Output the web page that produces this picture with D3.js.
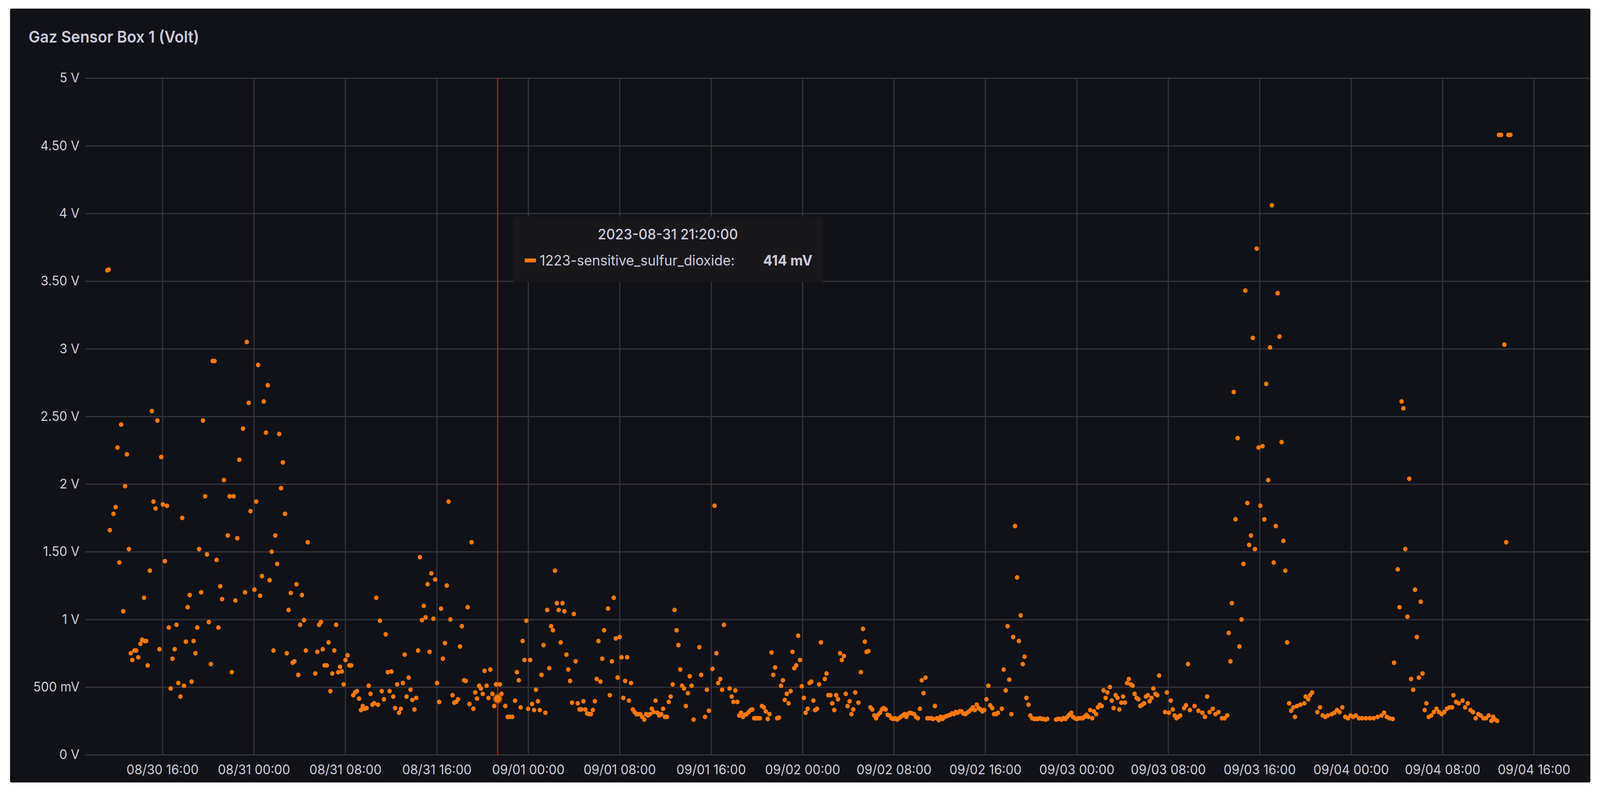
<!DOCTYPE html>
<html><head><meta charset="utf-8">
<script src="https://cdn.jsdelivr.net/npm/d3@7/dist/d3.min.js"></script>
<style>html,body{margin:0;padding:0;background:#fff;width:100%;height:100%;overflow:hidden;}svg{display:block;font-family:Inter,"Open Sans",sans-serif;}</style>
</head><body>
<script>
const title = "Gaz Sensor Box 1 (Volt)";
const seriesName = "1223-sensitive_sulfur_dioxide";
const startTime = new Date(2023, 7, 30, 16, 0, 0);
const xTickStarts = [0, 8, 16, 24, 32, 40, 48, 56, 64, 72, 80, 88, 96, 104, 112, 120];
const yTicks = [0, 0.5, 1, 1.5, 2, 2.5, 3, 3.5, 4, 4.5, 5];
const yTickLabels = ["0 V", "500 mV", "1 V", "1.50 V", "2 V", "2.50 V", "3 V", "3.50 V", "4 V", "4.50 V", "5 V"];
const hoverHours = 29.333;
const hoverValue = 0.414;
const hoverTimeLabel = "2023-08-31 21:20:00";
const hoverValueLabel = "414 mV";
// hours since 08/30 16:00 and readings (V)
const hours = [-4.82,-4.7,-4.6,-4.28,-4.09,-3.93,-3.77,-3.61,-3.43,-3.27,-3.11,-2.93,-2.77,-2.63,-2.45,-2.29,-2.11,-1.92,-1.78,-1.61,-1.55,-1.42,-1.29,-1.1,-0.92,-0.78,-0.6,-0.44,-0.26,-0.1,0.04,0.22,0.40,0.56,0.72,0.88,1.07,1.23,1.39,1.57,1.73,1.89,2.05,2.21,2.39,2.55,2.73,2.89,3.05,3.21,3.39,3.55,3.74,3.9,4.06,4.24,4.4,4.56,4.74,4.9,5.06,5.22,5.38,5.72,5.88,6.07,6.23,6.39,6.55,6.73,7.05,7.23,7.38,7.55,7.71,8.05,8.21,8.37,8.55,8.71,8.87,9.06,9.22,9.38,9.56,9.72,9.88,10.04,10.22,10.38,10.54,10.72,10.88,11.04,11.23,11.39,11.55,11.73,11.89,12.05,12.21,12.39,12.55,12.71,13.37,13.55,13.71,13.87,14.03,14.19,14.38,14.54,14.7,14.86,15.04,15.2,15.38,15.54,15.7,15.86,16.02,16.2,16.36,16.52,16.7,16.86,17.02,17.21,17.37,17.53,17.7,17.87,18.05,18.21,18.37,18.53,18.71,18.87,19.03,19.19,19.38,19.54,19.72,19.88,20.04,20.2,20.36,20.54,20.7,20.86,21.04,21.2,21.36,21.55,21.71,21.87,22.05,22.21,22.37,22.53,22.71,22.87,23.03,23.21,23.37,23.53,23.71,23.87,24.03,24.22,24.38,24.54,24.72,24.88,25.04,25.2,25.38,25.54,25.7,25.86,26.04,26.2,26.39,26.55,26.71,26.87,27.05,27.21,27.37,27.53,27.71,27.87,28.03,28.19,28.37,28.53,28.69,28.87,29.03,29.19,29.333,29.54,29.67,30.0,30.21,30.41,30.61,30.86,31.02,31.18,31.34,31.52,31.68,31.84,32.0,32.18,32.34,32.52,32.68,32.86,33.02,33.17,33.35,33.51,33.67,33.85,34.01,34.17,34.35,34.51,34.67,34.85,35.01,35.17,35.35,35.51,35.67,35.84,36.0,36.16,36.34,36.5,36.66,36.84,37.0,37.16,37.32,37.49,37.66,37.84,38.0,38.15,38.33,38.49,38.65,38.99,39.15,39.33,39.49,39.67,39.83,40.01,40.17,40.33,40.49,40.66,40.82,41.0,41.16,41.32,41.48,41.64,41.82,41.98,42.16,42.32,42.48,42.66,42.82,42.98,43.15,43.31,43.47,43.65,43.81,43.97,44.15,44.31,44.47,44.65,44.81,44.99,45.15,45.31,45.47,45.64,45.8,45.98,46.14,46.3,46.48,46.98,47.14,47.48,47.64,47.82,48.13,48.31,48.47,48.63,48.81,48.97,49.13,49.63,49.81,49.97,50.13,50.31,50.47,50.63,50.8,50.96,51.12,51.3,51.46,51.62,51.78,51.95,52.11,52.28,52.46,52.62,52.8,52.96,53.12,53.3,53.45,53.61,53.79,53.95,54.13,54.29,54.45,54.63,54.79,54.97,55.13,55.29,55.45,55.63,55.79,55.94,56.12,56.28,56.46,56.62,56.78,56.96,57.12,57.28,57.46,57.62,57.96,58.11,58.27,58.45,58.61,58.79,58.95,59.11,59.29,59.45,59.63,59.79,59.95,60.13,60.29,60.45,60.62,60.9,61.12,61.3,61.46,61.61,61.77,61.95,62.11,62.29,62.45,62.61,62.79,62.95,63.11,63.29,63.45,63.61,63.79,63.95,64.11,64.28,64.44,64.6,64.78,64.94,65.1,65.28,65.44,65.6,65.78,65.94,66.1,66.28,66.44,66.6,66.77,66.93,67.1,67.27,67.43,67.59,67.77,67.93,68.1,68.27,68.43,68.59,68.76,68.93,69.09,69.26,69.42,69.58,69.76,69.92,70.08,70.26,70.42,70.58,70.76,70.92,71.08,71.26,71.42,71.58,71.75,71.91,72.1,72.27,72.43,72.61,72.77,72.95,73.11,73.45,73.61,73.79,73.95,74.1,74.28,74.44,74.6,74.78,74.94,75.1,75.28,75.44,75.6,75.78,75.94,76.1,76.28,76.44,76.6,76.77,76.93,77.09,77.27,77.43,78.19,78.35,78.52,78.68,78.84,79.02,79.18,79.34,79.52,79.68,79.84,80.02,80.18,80.34,80.52,80.68,80.86,81.02,81.18,81.36,81.51,81.7,81.85,82.03,82.19,82.35,82.53,82.69,82.91,83.07,83.23,83.41,83.57,83.73,83.9,84.06,84.22,84.4,84.56,84.72,84.9,85.06,85.24,85.4,85.56,85.74,85.9,86.06,86.22,86.38,86.55,86.71,86.89,87.05,87.21,87.73,87.89,88.07,88.23,88.41,88.57,88.73,88.9,89.06,89.4,89.56,89.74,89.9,90.31,90.65,91.0,91.22,91.41,91.63,91.91,92.14,92.41,92.71,92.94,93.17,93.3,93.45,93.58,93.74,93.9,94.08,94.24,94.43,94.59,94.75,94.93,95.09,95.25,95.41,95.59,95.75,95.91,96.07,96.26,96.42,96.58,96.76,96.92,97.08,97.24,97.42,97.58,97.74,97.93,98.09,98.25,98.41,98.59,98.77,98.96,99.1,99.28,99.58,99.92,100.03,100.26,100.42,100.6,101.06,101.29,101.52,101.75,101.98,102.32,102.55,102.78,103.0,103.24,103.5,103.73,103.96,104.19,104.42,104.7,104.96,105.3,105.65,105.98,106.33,106.67,106.9,107.13,107.36,107.65,107.77,108.09,108.25,108.43,108.59,108.75,108.94,109.1,109.26,109.44,109.6,109.76,109.94,110.1,110.26,110.45,110.6,110.8,111.02,111.25,111.48,111.7,111.93,112.16,112.39,112.62,112.85,112.96,113.19,113.42,113.76,113.99,114.22,114.45,114.68,114.91,115.14,115.36,115.59,115.82,116.05,116.28,116.44,116.62,116.8,116.95,117.13,117.42,117.58,117.77,117.95];
const volts = [3.58,3.585,1.66,1.78,1.83,2.27,1.42,2.44,1.06,1.985,2.22,1.52,0.75,0.70,0.77,0.77,0.72,0.82,0.85,1.16,0.84,0.84,0.66,1.36,2.54,1.87,1.82,2.47,0.78,2.20,1.85,1.43,1.84,0.94,0.49,0.71,0.78,0.96,0.53,0.43,1.75,0.51,0.835,1.09,1.18,0.54,0.84,0.75,0.94,1.52,1.20,2.47,1.91,1.48,0.98,0.67,2.91,2.91,1.44,0.94,1.245,1.15,2.03,1.62,1.91,0.61,1.91,1.14,1.60,2.18,2.41,1.20,3.05,2.60,1.80,1.22,1.87,2.88,1.175,1.32,2.61,2.38,2.73,1.29,1.50,0.77,1.62,1.41,2.37,1.97,2.16,1.78,0.75,1.07,1.195,0.68,0.69,1.26,0.59,0.96,1.18,0.995,0.77,1.57,0.60,0.76,0.96,0.98,0.78,0.66,0.66,0.83,0.47,0.60,0.77,0.96,0.61,0.65,0.615,0.52,0.70,0.735,0.66,0.66,0.44,0.46,0.47,0.415,0.33,0.36,0.34,0.345,0.51,0.45,0.37,0.38,1.16,0.37,0.99,0.47,0.41,0.89,0.61,0.47,0.615,0.43,0.345,0.52,0.31,0.34,0.53,0.74,0.43,0.57,0.48,0.405,0.335,0.42,0.77,1.46,0.995,1.10,1.015,1.26,0.76,1.34,1.005,1.295,0.53,0.39,1.08,0.71,0.825,1.25,1.87,1.0,0.44,0.385,0.39,0.41,0.80,0.95,0.55,0.545,1.09,0.375,1.57,0.34,0.46,0.415,0.51,0.49,0.45,0.62,0.51,0.42,0.63,0.45,0.36,0.52,0.414,0.52,0.45,0.36,0.28,0.28,0.28,0.40,0.61,0.55,0.35,0.84,0.70,0.99,0.34,0.70,0.375,0.33,0.48,0.395,0.33,0.59,0.81,0.31,1.07,0.64,0.95,0.92,1.36,1.12,1.07,0.83,1.12,1.06,0.74,0.63,0.545,0.385,1.04,0.69,0.38,0.335,0.335,0.395,0.335,0.305,0.30,0.30,0.33,0.395,0.56,0.84,0.54,0.71,0.92,1.08,0.44,0.69,1.16,0.86,0.57,0.87,0.72,0.42,0.545,0.72,0.40,0.53,0.335,0.315,0.30,0.30,0.30,0.28,0.26,0.30,0.29,0.30,0.34,0.315,0.40,0.31,0.29,0.30,0.34,0.28,0.28,0.39,0.43,0.52,1.07,0.92,0.81,0.63,0.51,0.49,0.36,0.455,0.58,0.51,0.26,0.795,0.59,0.28,0.48,0.325,0.635,1.84,0.75,0.53,0.56,0.48,0.96,0.49,0.43,0.39,0.475,0.39,0.29,0.31,0.28,0.295,0.30,0.315,0.33,0.335,0.27,0.27,0.27,0.27,0.36,0.35,0.32,0.265,0.30,0.755,0.59,0.645,0.27,0.275,0.51,0.55,0.405,0.45,0.38,0.47,0.76,0.64,0.66,0.88,0.70,0.506,0.42,0.31,0.34,0.53,0.54,0.40,0.33,0.34,0.52,0.83,0.56,0.60,0.44,0.44,0.38,0.33,0.44,0.41,0.75,0.70,0.73,0.45,0.36,0.395,0.30,0.335,0.46,0.385,0.61,0.93,0.835,0.76,0.765,0.35,0.335,0.29,0.27,0.295,0.31,0.335,0.345,0.335,0.295,0.29,0.27,0.265,0.27,0.26,0.27,0.28,0.29,0.30,0.28,0.305,0.31,0.305,0.30,0.28,0.27,0.34,0.55,0.455,0.57,0.27,0.27,0.27,0.265,0.36,0.27,0.255,0.28,0.265,0.28,0.285,0.29,0.295,0.305,0.30,0.315,0.31,0.32,0.32,0.305,0.30,0.31,0.32,0.335,0.35,0.33,0.37,0.345,0.335,0.32,0.33,0.41,0.51,0.365,0.345,0.30,0.30,0.31,0.34,0.63,0.475,0.95,0.555,0.30,0.87,1.69,1.31,0.84,1.03,0.67,0.725,0.42,0.37,0.29,0.27,0.265,0.265,0.265,0.27,0.265,0.265,0.26,0.265,0.26,0.265,0.265,0.26,0.27,0.265,0.28,0.295,0.31,0.28,0.27,0.265,0.27,0.27,0.27,0.28,0.295,0.28,0.33,0.27,0.32,0.30,0.35,0.37,0.36,0.475,0.42,0.46,0.50,0.40,0.345,0.44,0.42,0.335,0.385,0.43,0.385,0.53,0.56,0.52,0.51,0.45,0.42,0.41,0.36,0.37,0.38,0.43,0.44,0.395,0.42,0.49,0.45,0.44,0.585,0.315,0.46,0.31,0.40,0.335,0.29,0.27,0.28,0.29,0.345,0.365,0.67,0.33,0.36,0.325,0.31,0.28,0.43,0.315,0.34,0.30,0.315,0.27,0.27,0.29,0.90,0.69,1.12,2.68,1.74,2.34,0.80,1.0,1.41,3.43,1.86,1.55,1.62,3.08,1.52,3.74,2.27,1.84,2.28,1.74,2.74,2.03,3.01,4.06,1.42,1.69,3.41,3.09,2.31,1.58,1.36,0.83,0.38,0.325,0.35,0.28,0.36,0.37,0.38,0.43,0.41,0.44,0.46,0.315,0.35,0.29,0.28,0.29,0.30,0.31,0.33,0.315,0.35,0.28,0.27,0.29,0.28,0.29,0.27,0.27,0.27,0.27,0.27,0.28,0.29,0.31,0.28,0.27,0.265,0.68,1.37,1.09,2.61,2.56,1.52,1.02,2.04,0.56,0.48,1.22,0.87,0.57,1.13,0.60,0.33,0.38,0.28,0.29,0.315,0.34,0.315,0.30,0.315,0.34,0.35,0.35,0.44,0.39,0.38,0.40,0.35,0.38,0.33,0.315,0.27,0.30,0.29,0.27,0.27,0.29,0.25,0.28,0.26,0.25,4.58,4.58,3.03,1.57,4.58,4.58];

const W = 4305, H = 2031;
const panel = {x: 27, y: 22, w: 4252, h: 1982};
const plot = {l: 230, r: 4279, t: 200, b: 1933};
const hourMs = 3600e3;
const t = h => new Date(startTime.getTime() + h * hourMs);
const data = hours.map((h, i) => ({time: t(h), v: volts[i]}));

const x = d3.scaleTime().domain([t(0), t(120)]).range([437, 4127]);
const y = d3.scaleLinear().domain([0, 5]).range([plot.b, plot.t]);

const svg = d3.select("body").append("svg")
  .attr("viewBox", `0 0 ${W} ${H}`).attr("preserveAspectRatio", "none")
  .style("width", "100vw").style("height", "100vh");
svg.append("rect").attr("x", panel.x).attr("y", panel.y).attr("width", panel.w).attr("height", panel.h)
  .attr("rx", 4).attr("fill", "#111217");
svg.append("text").attr("x", 77).attr("y", 109).attr("fill", "#ccccdc")
  .attr("font-size", 41).attr("font-weight", 600).text(title);

const textCol = "#ccccdc", gridCol = "#34353b";
const yAxis = svg.append("g").attr("transform", `translate(${plot.l},0)`)
  .call(d3.axisLeft(y).tickValues(yTicks).tickSize(-(plot.r - plot.l)).tickPadding(16)
    .tickFormat((d, i) => yTickLabels[i]));
yAxis.select(".domain").remove();
yAxis.selectAll("line").attr("stroke", gridCol).attr("stroke-width", 3);
yAxis.selectAll("text").attr("fill", textCol).attr("font-size", 34).attr("font-family", "Inter, sans-serif");

const fmt = d3.timeFormat("%m/%d %H:%M");
const xAxis = svg.append("g").attr("transform", `translate(0,${plot.b})`)
  .call(d3.axisBottom(x).tickValues(xTickStarts.map(t)).tickSize(-(plot.b - plot.t)).tickPadding(26).tickFormat(fmt));
xAxis.select(".domain").remove();
xAxis.selectAll("line").attr("stroke", gridCol).attr("stroke-width", 3);
xAxis.selectAll("text").attr("fill", textCol).attr("font-size", 34).attr("font-family", "Inter, sans-serif");

svg.append("line").attr("x1", x(t(hoverHours))).attr("x2", x(t(hoverHours)))
  .attr("y1", plot.t).attr("y2", plot.b).attr("stroke", "#c4162a").attr("stroke-width", 3);

svg.append("g").selectAll("circle").data(data).join("circle")
  .attr("cx", d => x(d.time)).attr("cy", d => y(d.v)).attr("r", 6).attr("fill", "#ff780a");
svg.append("circle").attr("cx", x(t(hoverHours))).attr("cy", y(hoverValue)).attr("r", 10)
  .attr("fill", "#ff780a").attr("stroke", "rgba(255,120,10,0.35)").attr("stroke-width", 8);

const tip = svg.append("g");
tip.append("rect").attr("x", 1380).attr("y", 555).attr("width", 835).attr("height", 167).attr("rx", 4).attr("fill", "#18181b");
tip.append("text").attr("x", 1797).attr("y", 613).attr("text-anchor", "middle").attr("fill", textCol)
  .attr("font-size", 37).attr("font-weight", 500).text(hoverTimeLabel);
tip.append("rect").attr("x", 1412).attr("y", 662).attr("width", 30).attr("height", 10).attr("fill", "#ff780a");
tip.append("text").attr("x", 1452).attr("y", 680).attr("fill", textCol).attr("font-size", 37).text(seriesName + ":");
tip.append("text").attr("x", 2186).attr("y", 680).attr("text-anchor", "end").attr("fill", textCol)
  .attr("font-size", 37).attr("font-weight", 700).text(hoverValueLabel);
</script>
</body></html>
